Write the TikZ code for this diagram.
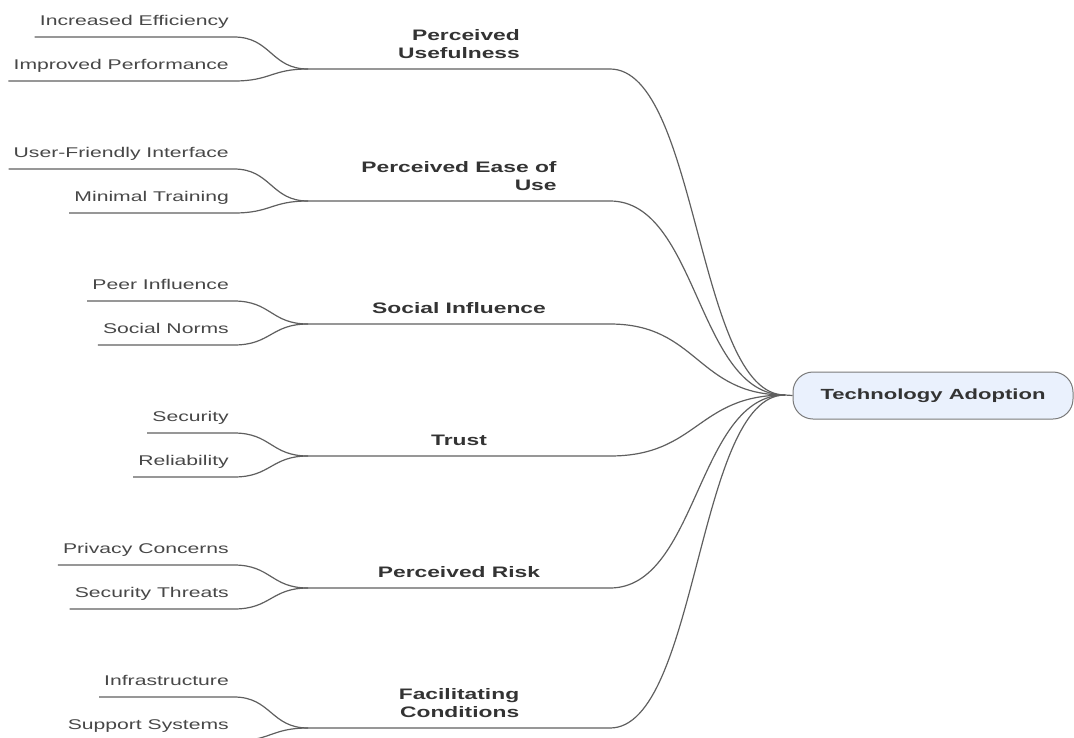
\documentclass[tikz,border=0pt]{standalone}
\usepackage{fontspec}
\setmainfont{Liberation Sans}[FakeStretch=1.5]
\usetikzlibrary{calc}
\definecolor{ink}{HTML}{333333}
\definecolor{ink2}{HTML}{474747}
\definecolor{wire}{HTML}{5F5F5F}
\definecolor{rootfill}{HTML}{EAF1FD}
\definecolor{rootline}{HTML}{7A7A7A}
\tikzset{
  wire/.style={draw=wire,line width=1.2pt},
  leaf/.style={font=\fontsize{14.1}{17}\selectfont,text=ink2,anchor=south east,inner sep=0pt,text depth=0pt},
  topic/.style={font=\fontsize{15.2}{18.5}\selectfont\bfseries,text=ink,anchor=south,align=right,inner sep=0pt,text depth=0pt},
  core/.style={draw=rootline,fill=rootfill,line width=1pt,rounded corners=20pt,minimum width=280pt,minimum height=47pt,font=\fontsize{14.7}{17}\selectfont\bfseries,text=ink},
}

\begin{document}
\begin{tikzpicture}[x=1pt,y=-1pt]
  \useasboundingbox (0,0) rectangle (1074,737);
  \node[core] (root) at (933,395.5) {Technology Adoption};
  \coordinate (hub) at (785,395);
  \draw[wire] (hub) -- (root.west);
  % topics
  \foreach \n/\y/\t in {pu/69/{Perceived\\Usefulness},peu/201/{Perceived Ease of\\Use},si/324/Social Influence,tr/456/Trust,pr/588/Perceived Risk,fc/728/{Facilitating\\Conditions}}{
    \coordinate (\n) at (308,\y);
    \coordinate (\n-end) at (610,\y);
    \node[topic] (\n-lab) at (459,\y-10) {\t};
    \draw[wire] (\n) -- (\n-end) .. controls +(88,0) and +(-88,0) .. (hub);}
  % leaves
  \foreach \n/\p/\y/\t in {ie/pu/37/Increased Efficiency,ip/pu/81/Improved Performance,ui/peu/169/User-Friendly Interface,mt/peu/213/Minimal Training,
      pi/si/301/Peer Influence,sn/si/345/Social Norms,se/tr/433/Security,re/tr/477/Reliability,
      pc/pr/565/Privacy Concerns,st/pr/609/Security Threats,in/fc/697/Infrastructure,ss/fc/741/Support Systems}{
    \node[leaf] (\n) at (229,\y-11) {\t};
    \draw[wire] ([shift={(-5pt,-11pt)}]\n.south west) -- ([shift={(5pt,-11pt)}]\n.south east) .. controls +(37,0) and +(-37,0) .. (\p);}
\end{tikzpicture}
\end{document}
